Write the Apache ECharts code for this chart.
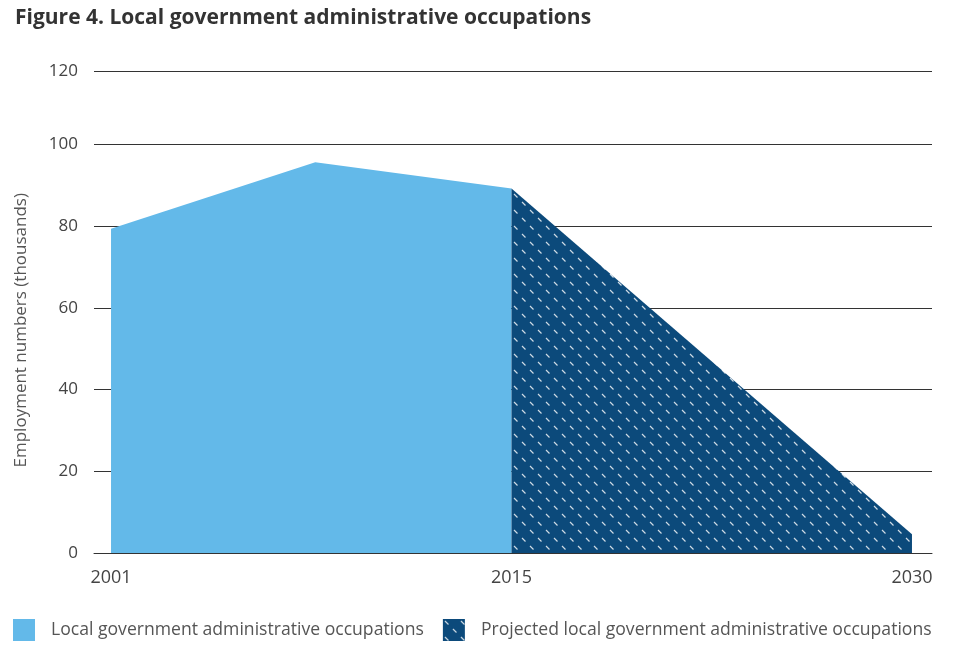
<!DOCTYPE html>
<html>
<head>
<meta charset="utf-8">
<script src="https://cdn.jsdelivr.net/npm/echarts@6/dist/echarts.min.js"></script>
<style>
html,body{margin:0;padding:0;background:#fff;}
#chart{width:977px;height:647px;}
</style>
</head>
<body>
<div id="chart"></div>
<script>
// ---- data ----
const titleText = 'Figure 4. Local government administrative occupations';
const yAxisName = 'Employment numbers (thousands)';
const seriesNames = ['Local government administrative occupations', 'Projected local government administrative occupations'];
// x positions: 0 = 2001, 1 = 2015, 2 = 2030 (axis spacing as in the original figure)
const xTickValues = [0, 1, 2];
const xTickLabels = ['2001', '2015', '2030'];
const histX = [0, 0.51, 1];
const histY = [79.3, 95.6, 89.2];
const projX = [1, 2];
const projY = [89.2, 4.6];
const yTickLabels = ['0', '20', '40', '60', '80', '100', '120'];

function zip(xs, ys) { return xs.map((x, i) => [x, ys[i]]); }

// hatch pattern
function makePattern() {
  const c = document.createElement('canvas');
  c.width = 16; c.height = 16;
  const g = c.getContext('2d');
  g.fillStyle = '#0c4a7b';
  g.fillRect(0, 0, 16, 16);
  g.strokeStyle = 'rgba(255,255,255,0.8)';
  g.lineWidth = 1.2;
  g.beginPath();
  g.moveTo(2, 2); g.lineTo(5.5, 5.5);
  g.moveTo(10, 10); g.lineTo(13.5, 13.5);
  g.stroke();
  return { image: c, repeat: 'repeat' };
}
const pattern = makePattern();
const lightBlue = '#63b9e9';
const font = '"Open Sans", "Noto Sans", sans-serif';

const chart = echarts.init(document.getElementById('chart'));
chart.setOption({
  animation: false,
  title: {
    text: titleText,
    left: 10, top: 3,
    textStyle: { fontFamily: font, fontWeight: 'bold', fontSize: 21, color: '#333' }
  },
  grid: { left: 94, right: 45, top: 71.5, bottom: 94 },
  xAxis: {
    type: 'value',
    min: -0.0425, max: 2.05,
    axisLine: { show: true, onZero: false, lineStyle: { color: '#333', width: 1 } },
    axisTick: { show: false },
    splitLine: { show: false },
    axisLabel: {
      customValues: xTickValues,
      formatter: (v) => { const i = xTickValues.indexOf(v); return i >= 0 ? xTickLabels[i] : ''; },
      fontFamily: font, fontSize: 18, color: '#444', margin: 16
    }
  },
  yAxis: {
    type: 'value',
    min: 0, max: 117.8, interval: 20,
    name: yAxisName,
    nameLocation: 'middle',
    nameGap: 64,
    nameTextStyle: { fontFamily: font, fontSize: 17, color: '#555', padding: [0, 36, 0, 0] },
    axisLine: { show: false },
    axisTick: { show: false },
    splitLine: { lineStyle: { color: '#333', width: 1 } },
    axisLabel: {
      formatter: (v, i) => yTickLabels[i],
      fontFamily: font, fontSize: 17, color: '#444', margin: 16
    }
  },
  legend: {
    left: 8, top: 614,
    itemWidth: 22, itemHeight: 22,
    itemGap: 19,
    icon: 'rect',
    textStyle: { fontFamily: font, fontSize: 17.6, color: '#555', padding: [0, 0, 0, 11] },
    data: [
      { name: seriesNames[0], itemStyle: { color: lightBlue } },
      { name: seriesNames[1], itemStyle: { color: pattern } }
    ]
  },
  series: [
    {
      name: seriesNames[0],
      type: 'line',
      data: zip(histX, histY),
      symbol: 'none',
      lineStyle: { width: 0 },
      itemStyle: { color: lightBlue },
      areaStyle: { color: lightBlue, opacity: 1 },
      z: 1
    },
    {
      name: seriesNames[1],
      type: 'line',
      data: zip(projX, projY),
      symbol: 'none',
      lineStyle: { width: 0 },
      itemStyle: { color: '#0c4a7b' },
      areaStyle: { color: pattern, opacity: 1 },
      z: 1
    }
  ]
});
</script>
</body>
</html>
